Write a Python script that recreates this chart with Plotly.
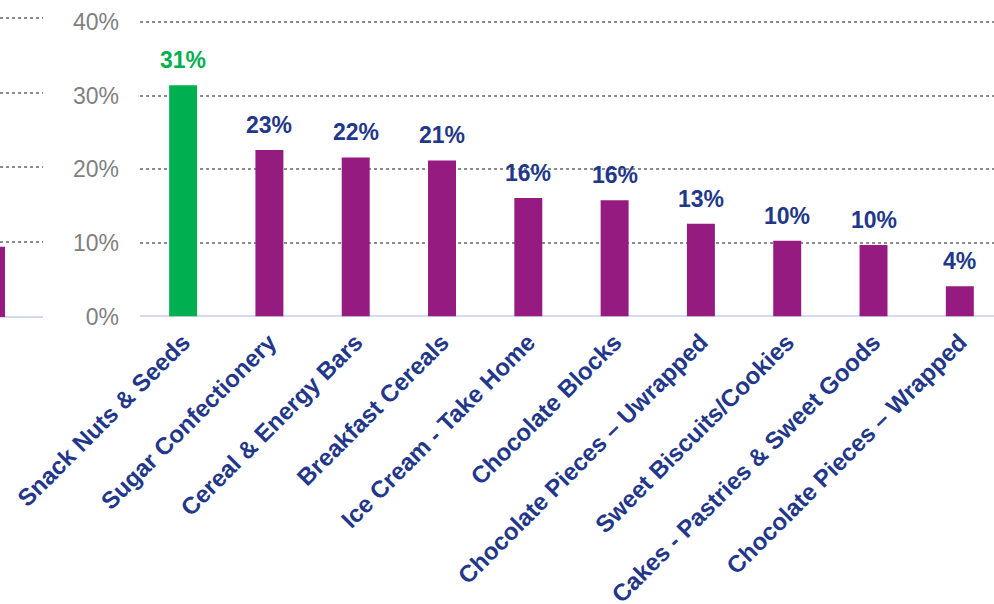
import plotly.graph_objects as go

# Share of shoppers by snack category (%)
categories = [
    "Snack Nuts & Seeds",
    "Sugar Confectionery",
    "Cereal & Energy Bars",
    "Breakfast Cereals",
    "Ice Cream - Take Home",
    "Chocolate Blocks",
    "Chocolate Pieces – Uwrapped",
    "Sweet Biscuits/Cookies",
    "Cakes - Pastries & Sweet Goods",
    "Chocolate Pieces – Wrapped",
]
values = [31.4, 22.6, 21.6, 21.2, 16.1, 15.8, 12.6, 10.3, 9.7, 4.1]
highlight = "Snack Nuts & Seeds"

# Neighbouring panel (only its last bar reaches into view)
side_categories = ["Total"]
side_values = [9.4]

y_ticks = [0, 10, 20, 30, 40]
y_tick_text = ["0%", "10%", "20%", "30%", "40%"]

PURPLE = "#951b80"
GREEN = "#00b050"
NAVY = "#22378a"
GREY = "#808080"
GRID = "#8c8c8c"
BASE = "#d5d9f0"
FONT = "Liberation Sans, Arial, sans-serif"

bar_colors = [GREEN if c == highlight else PURPLE for c in categories]
label_colors = [GREEN if c == highlight else NAVY for c in categories]

fig = go.Figure()

fig.add_trace(go.Bar(
    x=side_categories, y=side_values, xaxis="x2", yaxis="y2",
    marker=dict(color=PURPLE, line=dict(width=0)), width=0.324,
    text=[f"{v:.0f}%" for v in side_values], textposition="outside",
    cliponaxis=False,
    textfont=dict(family=FONT, size=23, color=NAVY, weight="bold"),
    showlegend=False, hoverinfo="skip",
))

fig.add_trace(go.Bar(
    x=categories, y=values, xaxis="x", yaxis="y",
    marker=dict(color=bar_colors, line=dict(width=0)), width=0.324,
    showlegend=False,
))

# Value labels above each bar
for c, v, col in zip(categories, values, label_colors):
    fig.add_annotation(
        x=c, y=v, xref="x", yref="y", text=f"{v:.0f}%", showarrow=False,
        yanchor="bottom", yshift=10,
        font=dict(family=FONT, size=23, color=col, weight="bold"),
    )

fig.update_layout(
    width=994, height=604,
    margin=dict(l=0, r=0, t=14, b=287, autoexpand=False),
    paper_bgcolor="white", plot_bgcolor="white",
    font=dict(family=FONT),
    xaxis=dict(
        domain=[0.1408, 1.0], range=[-0.5, 9.396],
        showgrid=False, showline=False, zeroline=False, ticks="",
        tickangle=-45, ticklabelstandoff=6, automargin=False,
        tickfont=dict(family=FONT, size=24, color=NAVY, weight="bold"),
        anchor="y",
    ),
    yaxis=dict(
        domain=[0.0017, 0.9858], range=[0, 40.5],
        tickvals=y_ticks, ticktext=y_tick_text,
        tickfont=dict(family=FONT, size=23, color=GREY),
        ticklabelstandoff=20, automargin=False,
        showgrid=True, gridcolor=GRID, griddash="dot", gridwidth=1.5,
        zeroline=True, zerolinecolor=BASE, zerolinewidth=2,
        showline=False, ticks="", anchor="x",
    ),
    xaxis2=dict(
        domain=[0.0, 0.0433], range=[0.104, 0.602],
        showgrid=False, showline=False, zeroline=False, ticks="",
        showticklabels=False, anchor="y2", type="category", automargin=False,
    ),
    yaxis2=dict(
        domain=[0.0, 1.0], range=[0, 40.5],
        tickvals=y_ticks, showticklabels=False, automargin=False,
        showgrid=True, gridcolor=GRID, griddash="dot", gridwidth=1.5,
        zeroline=True, zerolinecolor=BASE, zerolinewidth=2,
        showline=False, ticks="", anchor="x2",
    ),
)

fig.write_html("out.html")
